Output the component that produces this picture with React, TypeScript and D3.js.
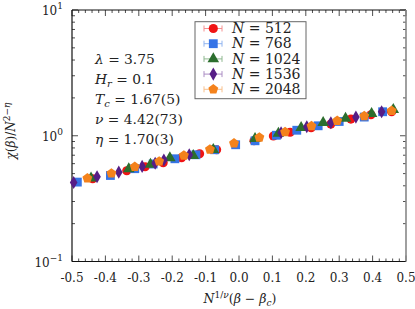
import React from 'react'
import * as d3 from 'd3'

// data
const seriesNames = ['512', '768', '1024', '1536', '2048']
const colors = ['#f01414', '#3674e6', '#2c6e2e', '#561d86', '#f4821c']
const barColors = ['#f59090', '#90b4f0', '#8fb890', '#ab8ec4', '#f8c08c']
const shapes = ['circle', 'square', 'triangle', 'diamond', 'pentagon']

const x512 = [-0.438, -0.336, -0.281, -0.227, -0.172, -0.118, -0.067, 0.045, 0.103, 0.153, 0.216, 0.275, 0.335, 0.395, 0.457]
const y512 = [0.455, 0.527, 0.567, 0.61, 0.668, 0.719, 0.774, 0.912, 0.995, 1.066, 1.158, 1.239, 1.357, 1.468, 1.552]

const x768 = [-0.484, -0.385, -0.312, -0.257, -0.192, -0.129, -0.073, -0.01, 0.048, 0.112, 0.173, 0.237, 0.3, 0.375, 0.43]
const y768 = [0.428, 0.483, 0.547, 0.596, 0.656, 0.706, 0.774, 0.848, 0.912, 1.009, 1.106, 1.2, 1.299, 1.408, 1.552]

const x1024 = [-0.443, -0.33, -0.265, -0.207, -0.137, -0.077, 0.048, 0.118, 0.186, 0.252, 0.319, 0.397, 0.462]
const y1024 = [0.459, 0.544, 0.591, 0.665, 0.693, 0.774, 0.946, 1.043, 1.158, 1.269, 1.372, 1.496, 1.61]

const x1536 = [-0.495, -0.425, -0.36, -0.29, -0.251, -0.225, -0.149, 0.126, 0.203, 0.275, 0.35, 0.427]
const y1536 = [0.425, 0.472, 0.513, 0.57, 0.604, 0.641, 0.706, 1.057, 1.179, 1.269, 1.408, 1.552]

const x2048 = [-0.454, -0.382, -0.312, -0.239, -0.165, -0.087, -0.015, 0.061, 0.138, 0.217, 0.294, 0.375, 0.457]
const y2048 = [0.459, 0.502, 0.567, 0.625, 0.697, 0.778, 0.871, 0.969, 1.07, 1.194, 1.316, 1.435, 1.581]

const allX = [x512, x768, x1024, x1536, x2048]
const allY = [y512, y768, y1024, y1536, y2048]

const xTicks = [-0.5, -0.4, -0.3, -0.2, -0.1, 0.0, 0.1, 0.2, 0.3, 0.4, 0.5]
const yDecades = [-1, 0, 1]

const font = "'DejaVu Serif', serif"

function markerPath(shape: string, cx: number, cy: number) {
  if (shape === 'pentagon') {
    const r = 5.2
    const pts = d3.range(5).map(i => {
      const a = -Math.PI / 2 + (i * 2 * Math.PI) / 5
      return [cx + r * Math.cos(a), cy + r * Math.sin(a)]
    })
    return 'M' + pts.map(p => p.join(',')).join('L') + 'Z'
  }
  const types: any = {
    circle: [d3.symbolCircle, 66],
    square: [d3.symbolSquare, 78],
    triangle: [d3.symbolTriangle, 58],
    diamond: [d3.symbolDiamond, 50],
  }
  const [t, s] = types[shape]
  return d3.symbol().type(t).size(s)()
}

function Marker({ shape, cx, cy, color }: any) {
  if (shape === 'pentagon') return <path d={markerPath(shape, cx, cy)} fill={color} />
  return <path d={markerPath(shape, 0, 0) as string} transform={`translate(${cx},${cy})`} fill={color} />
}

export default function App() {
  const W = 415, H = 309
  const left = 72, right = 406, top = 10, bottom = 261.5
  const x = d3.scaleLinear().domain([-0.5, 0.5]).range([left, right])
  const y = d3.scaleLog().domain([0.1, 10]).range([bottom, top])

  const xMinor = d3.range(-0.5, 0.5001, 0.02).map(v => +v.toFixed(2))
  const yMinor: number[] = []
  for (const d of [-1, 0]) for (let k = 2; k <= 9; k++) yMinor.push(k * Math.pow(10, d))

  const notes = [
    <><tspan fontStyle="italic">λ</tspan> = 3.75</>,
    <><tspan fontStyle="italic">H</tspan><tspan fontStyle="italic" fontSize="10" dy="3">r</tspan><tspan dy="-3"> = 0.1</tspan></>,
    <><tspan fontStyle="italic">T</tspan><tspan fontStyle="italic" fontSize="10" dy="3">c</tspan><tspan dy="-3"> = 1.67(5)</tspan></>,
    <><tspan fontStyle="italic">ν</tspan> = 4.42(73)</>,
    <><tspan fontStyle="italic">η</tspan> = 1.70(3)</>,
  ]

  return (
    <svg width={W} height={H} style={{ position: 'absolute', left: 0, top: 0, fontFamily: font }}>
      <rect width={W} height={H} fill="white" />
      {/* ticks */}
      <g stroke="#222" strokeWidth={0.8}>
        {xMinor.map(v => {
          const major = xTicks.some(t => Math.abs(t - v) < 1e-6)
          const l = major ? 6 : 3
          return (
            <g key={'xt' + v}>
              <line x1={x(v)} x2={x(v)} y1={bottom} y2={bottom - l} />
              <line x1={x(v)} x2={x(v)} y1={top} y2={top + l} />
            </g>
          )
        })}
        {yDecades.map(d => (
          <g key={'yd' + d}>
            <line x1={left} x2={left + 6} y1={y(Math.pow(10, d))} y2={y(Math.pow(10, d))} />
            <line x1={right} x2={right - 6} y1={y(Math.pow(10, d))} y2={y(Math.pow(10, d))} />
          </g>
        ))}
        {yMinor.map(v => (
          <g key={'ym' + v}>
            <line x1={left} x2={left + 3} y1={y(v)} y2={y(v)} />
            <line x1={right} x2={right - 3} y1={y(v)} y2={y(v)} />
          </g>
        ))}
      </g>
      {/* frame */}
      <line x1={left} x2={right} y1={top} y2={top} stroke="#111" strokeWidth={1.2} />
      <line x1={left} x2={right} y1={bottom} y2={bottom} stroke="#111" strokeWidth={1.2} />
      <line x1={left} x2={left} y1={top} y2={bottom} stroke="#111" strokeWidth={1.2} />
      <line x1={right} x2={right} y1={top} y2={bottom} stroke="#888" strokeWidth={1.6} />

      {/* tick labels */}
      <g fontSize={12} fill="#222" textAnchor="middle">
        {xTicks.map(v => (
          <text key={'xl' + v} x={x(v)} y={282}>{v.toFixed(1)}</text>
        ))}
      </g>
      <g fontSize={12} fill="#222" textAnchor="end">
        {yDecades.map(d => (
          <text key={'yl' + d} x={63} y={y(Math.pow(10, d)) + 5}>
            10<tspan fontSize={9} dy={-6}>{d < 0 ? '−1' : String(d)}</tspan>
          </text>
        ))}
      </g>

      {/* axis titles */}
      <text x={240} y={303} fontSize={12.5} textAnchor="middle" fill="#222">
        <tspan fontStyle="italic">N</tspan>
        <tspan fontSize={9} dy={-5}>1/</tspan><tspan fontSize={9} fontStyle="italic">ν</tspan>
        <tspan dy={5}>(</tspan><tspan fontStyle="italic">β</tspan> − <tspan fontStyle="italic">β</tspan>
        <tspan fontSize={9} fontStyle="italic" dy={3}>c</tspan><tspan dy={-3}>)</tspan>
      </text>
      <text transform="translate(15,131) rotate(-90)" fontSize={12} textAnchor="middle" fill="#222">
        <tspan fontStyle="italic">χ</tspan>(<tspan fontStyle="italic">β</tspan>)/<tspan fontStyle="italic">N</tspan>
        <tspan fontSize={9} dy={-5}>2−</tspan><tspan fontSize={9} fontStyle="italic">η</tspan>
      </text>

      {/* annotations */}
      <g fontSize={13.8} fill="#222">
        {notes.map((n, i) => (
          <text key={'n' + i} x={95} y={63.5 + i * 20}>{n}</text>
        ))}
      </g>

      {/* data */}
      {allX.map((xs, si) => (
        <g key={'s' + si}>
          {xs.map((xv, i) => (
            <Marker key={i} shape={shapes[si]} cx={x(xv)} cy={y(allY[si][i])} color={colors[si]} />
          ))}
        </g>
      ))}

      {/* legend */}
      <rect x={195} y={21.7} width={111} height={77} fill="white" stroke="#666" strokeWidth={1} />
      {seriesNames.map((n, i) => {
        const ly = 28.5 + i * 15.2
        return (
          <g key={'lg' + i}>
            <line x1={204} x2={222} y1={ly} y2={ly} stroke={barColors[i]} strokeWidth={1} />
            <line x1={204} x2={204} y1={ly - 3} y2={ly + 3} stroke={barColors[i]} strokeWidth={1} />
            <line x1={222} x2={222} y1={ly - 3} y2={ly + 3} stroke={barColors[i]} strokeWidth={1} />
            <Marker shape={shapes[i]} cx={213.3} cy={ly} color={colors[i]} />
            <text x={232} y={ly + 4.7} fontSize={14} fill="#222">
              <tspan fontStyle="italic">N</tspan> = {n}
            </text>
          </g>
        )
      })}
    </svg>
  )
}
